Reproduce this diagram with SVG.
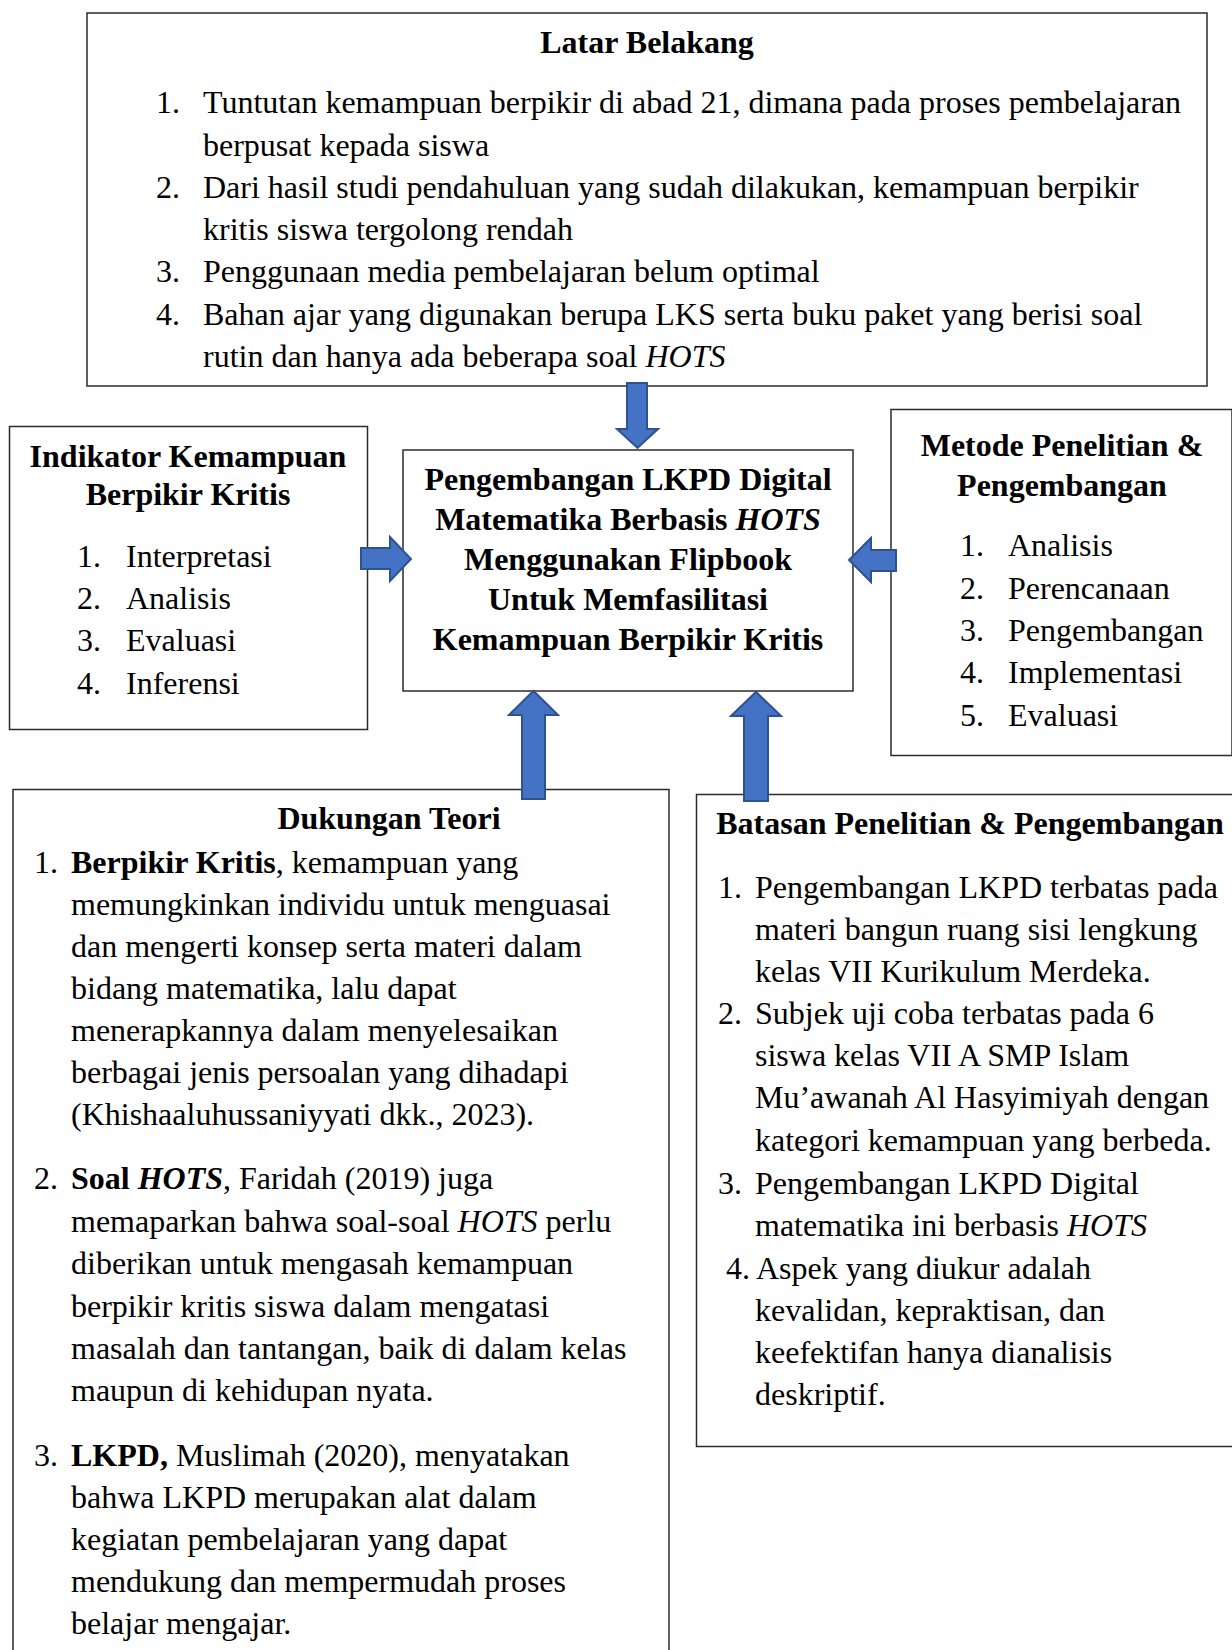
<svg xmlns="http://www.w3.org/2000/svg" width="1232" height="1650" viewBox="0 0 1232 1650">
<style>
  .box { fill: #ffffff; stroke: #2b2b2b; stroke-width: 1.5; }
  .t { font-family: "Liberation Serif", "Times New Roman", serif; font-size: 32px; fill: #000000; }
  .b { font-weight: bold; }
  .i { font-style: italic; }
  .c { text-anchor: middle; }
  .arrow { fill: #4472C4; stroke: #2F528F; stroke-width: 2; stroke-linejoin: miter; }
</style>
<rect x="0" y="0" width="1232" height="1650" fill="#ffffff"/>

<g id="latar-belakang">
  <rect class="box" x="87" y="13" width="1120" height="373"/>
  <text class="t b c" x="647" y="53">Latar Belakang</text>
  <text class="t" x="156" y="113">1.</text>
  <text class="t" x="203" y="113">Tuntutan kemampuan berpikir di abad 21, dimana pada proses pembelajaran</text>
  <text class="t" x="203" y="156">berpusat kepada siswa</text>
  <text class="t" x="156" y="198">2.</text>
  <text class="t" x="203" y="198">Dari hasil studi pendahuluan yang sudah dilakukan, kemampuan berpikir</text>
  <text class="t" x="203" y="240">kritis siswa tergolong rendah</text>
  <text class="t" x="156" y="282">3.</text>
  <text class="t" x="203" y="282">Penggunaan media pembelajaran belum optimal</text>
  <text class="t" x="156" y="325">4.</text>
  <text class="t" x="203" y="325">Bahan ajar yang digunakan berupa LKS serta buku paket yang berisi soal</text>
  <text class="t" x="203" y="367">rutin dan hanya ada beberapa soal <tspan class="i">HOTS</tspan></text>
</g>

<g id="indikator">
  <rect class="box" x="9.5" y="426.5" width="358" height="303"/>
  <text class="t b c" x="188" y="467">Indikator Kemampuan</text>
  <text class="t b c" x="188" y="505">Berpikir Kritis</text>
  <text class="t" x="77" y="567">1.</text>
  <text class="t" x="126" y="567">Interpretasi</text>
  <text class="t" x="77" y="609">2.</text>
  <text class="t" x="126" y="609">Analisis</text>
  <text class="t" x="77" y="651">3.</text>
  <text class="t" x="126" y="651">Evaluasi</text>
  <text class="t" x="77" y="694">4.</text>
  <text class="t" x="126" y="694">Inferensi</text>
</g>

<g id="pengembangan">
  <rect class="box" x="403" y="450" width="450" height="241"/>
  <text class="t b c" x="628" y="490">Pengembangan LKPD Digital</text>
  <text class="t b c" x="628" y="530">Matematika Berbasis <tspan class="i">HOTS</tspan></text>
  <text class="t b c" x="628" y="570">Menggunakan Flipbook</text>
  <text class="t b c" x="628" y="610">Untuk Memfasilitasi</text>
  <text class="t b c" x="628" y="650">Kemampuan Berpikir Kritis</text>
</g>

<g id="metode">
  <rect class="box" x="891" y="409.5" width="341" height="346"/>
  <text class="t b c" x="1062" y="456">Metode Penelitian &amp;</text>
  <text class="t b c" x="1062" y="496">Pengembangan</text>
  <text class="t" x="960" y="556">1.</text>
  <text class="t" x="1008" y="556">Analisis</text>
  <text class="t" x="960" y="599">2.</text>
  <text class="t" x="1008" y="599">Perencanaan</text>
  <text class="t" x="960" y="641">3.</text>
  <text class="t" x="1008" y="641">Pengembangan</text>
  <text class="t" x="960" y="683">4.</text>
  <text class="t" x="1008" y="683">Implementasi</text>
  <text class="t" x="960" y="726">5.</text>
  <text class="t" x="1008" y="726">Evaluasi</text>
</g>

<g id="dukungan-teori">
  <rect class="box" x="13" y="789.5" width="656" height="870"/>
  <text class="t b c" x="389" y="829">Dukungan Teori</text>
  <text class="t" x="34" y="873">1.</text>
  <text class="t" x="71" y="873"><tspan class="b">Berpikir Kritis</tspan>, kemampuan yang</text>
  <text class="t" x="71" y="915">memungkinkan individu untuk menguasai</text>
  <text class="t" x="71" y="957">dan mengerti konsep serta materi dalam</text>
  <text class="t" x="71" y="999">bidang matematika, lalu dapat</text>
  <text class="t" x="71" y="1041">menerapkannya dalam menyelesaikan</text>
  <text class="t" x="71" y="1083">berbagai jenis persoalan yang dihadapi</text>
  <text class="t" x="71" y="1125">(Khishaaluhussaniyyati dkk., 2023).</text>
  <text class="t" x="34" y="1189">2.</text>
  <text class="t" x="71" y="1189"><tspan class="b">Soal </tspan><tspan class="b i">HOTS</tspan>, Faridah (2019) juga</text>
  <text class="t" x="71" y="1232">memaparkan bahwa soal-soal <tspan class="i">HOTS</tspan> perlu</text>
  <text class="t" x="71" y="1274">diberikan untuk mengasah kemampuan</text>
  <text class="t" x="71" y="1317">berpikir kritis siswa dalam mengatasi</text>
  <text class="t" x="71" y="1359">masalah dan tantangan, baik di dalam kelas</text>
  <text class="t" x="71" y="1401">maupun di kehidupan nyata.</text>
  <text class="t" x="34" y="1466">3.</text>
  <text class="t" x="71" y="1466"><tspan class="b">LKPD,</tspan> Muslimah (2020), menyatakan</text>
  <text class="t" x="71" y="1508">bahwa LKPD merupakan alat dalam</text>
  <text class="t" x="71" y="1550">kegiatan pembelajaran yang dapat</text>
  <text class="t" x="71" y="1592">mendukung dan mempermudah proses</text>
  <text class="t" x="71" y="1634">belajar mengajar.</text>
</g>

<g id="batasan">
  <rect class="box" x="696.5" y="794.5" width="540" height="652"/>
  <text class="t b c" x="970" y="834">Batasan Penelitian &amp; Pengembangan</text>
  <text class="t" x="718" y="898">1.</text>
  <text class="t" x="755" y="898">Pengembangan LKPD terbatas pada</text>
  <text class="t" x="755" y="940">materi bangun ruang sisi lengkung</text>
  <text class="t" x="755" y="982">kelas VII Kurikulum Merdeka.</text>
  <text class="t" x="718" y="1024">2.</text>
  <text class="t" x="755" y="1024">Subjek uji coba terbatas pada 6</text>
  <text class="t" x="755" y="1066">siswa kelas VII A SMP Islam</text>
  <text class="t" x="755" y="1108">Mu’awanah Al Hasyimiyah dengan</text>
  <text class="t" x="755" y="1151">kategori kemampuan yang berbeda.</text>
  <text class="t" x="718" y="1194">3.</text>
  <text class="t" x="755" y="1194">Pengembangan LKPD Digital</text>
  <text class="t" x="755" y="1236">matematika ini berbasis <tspan class="i">HOTS</tspan></text>
  <text class="t" x="726" y="1279">4.</text>
  <text class="t" x="756" y="1279">Aspek yang diukur adalah</text>
  <text class="t" x="755" y="1321">kevalidan, kepraktisan, dan</text>
  <text class="t" x="755" y="1363">keefektifan hanya dianalisis</text>
  <text class="t" x="755" y="1405">deskriptif.</text>
</g>

<g id="connectors">
  <polygon class="arrow" points="627,383 647,383 647,429 658,429 637.5,448 617,429 627,429"/>
  <polygon class="arrow" points="361,548 390,548 390,537 411,559 390,581 390,569 361,569"/>
  <polygon class="arrow" points="896,550 871,550 871,538 849,560 871,582 871,571 896,571"/>
  <polygon class="arrow" points="522,799 522,715 509,715 533.5,691 558,715 545,715 545,799"/>
  <polygon class="arrow" points="744,801 744,716 731,716 756,692 781,716 768,716 768,801"/>
</g>
</svg>
